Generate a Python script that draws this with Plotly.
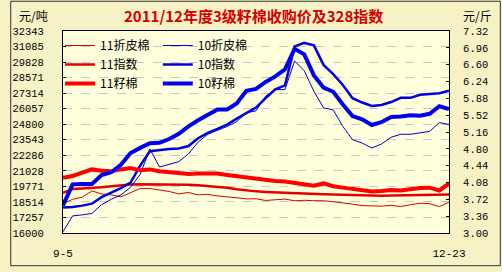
import plotly.graph_objects as go

# x positions (trading-day samples from 9-5 to 12-23)
x_idx = list(range(41))
x_tick_labels = ["9-5", "12-23"]

# 2011/12 season (red)
s11_lint = [18372, 18728, 18902, 19400, 19163, 19084, 18926, 19281, 19598, 19598,
            19479, 19360, 19163, 19281, 19084, 19123, 19005, 18926, 18847, 18767,
            18767, 18633, 18688, 18744, 18609, 18649, 18609, 18609, 18530, 18451,
            18333, 18214, 18174, 18174, 18238, 18135, 18293, 18412, 18372, 18135, 18491]
s11_index = [19242, 19558, 19598, 19637, 19693, 19780, 19874, 19914, 19954, 19954,
             19954, 19954, 19954, 19898, 19859, 19795, 19732, 19653, 19542, 19432,
             19368, 19321, 19281, 19242, 19218, 19194, 19163, 19139, 19107, 19084,
             19060, 19020, 18981, 19005, 19028, 19044, 19044, 19076, 19044, 19084, 19115]
s11_seed = [4.18, 4.22, 4.29, 4.36, 4.33, 4.32, 4.36, 4.39, 4.34, 4.36,
            4.32, 4.30, 4.27, 4.26, 4.27, 4.28, 4.27, 4.24, 4.21, 4.18,
            4.17, 4.14, 4.11, 4.10, 4.07, 4.04, 4.01, 4.06, 4.00, 3.97,
            3.94, 3.91, 3.89, 3.90, 3.92, 3.91, 3.94, 3.96, 3.97, 3.91, 4.06]

# 2010/11 season (blue)
s10_lint = [16100, 17384, 17463, 17581, 18293, 18728, 19084, 19693, 20744, 22800,
            21337, 21535, 21772, 22405, 23354, 23986, 24302, 24619, 25014, 25726,
            25884, 27070, 27600, 27600, 29916, 29125, 27465, 26121, 25963, 24619,
            23551, 23274, 22879, 23195, 23749, 23986, 23986, 24105, 24223, 24935, 24777]
s10_index = [18056, 18095, 18214, 18372, 18902, 19242, 19637, 20072, 21456, 22618,
             22721, 22800, 22839, 23037, 23670, 24105, 24421, 24777, 25251, 25726,
             26145, 26912, 27623, 27940, 31102, 31379, 31181, 29600, 28849, 27979,
             26912, 26556, 26279, 26358, 26595, 26935, 26935, 27188, 27228, 27307, 27521]
s10_seed = [3.59, 4.04, 4.05, 4.05, 4.24, 4.30, 4.46, 4.71, 4.82, 4.92,
            4.93, 5.01, 5.12, 5.28, 5.41, 5.53, 5.64, 5.64, 5.77, 6.04,
            6.08, 6.23, 6.35, 6.50, 6.94, 6.82, 6.37, 6.11, 6.02, 5.75,
            5.50, 5.43, 5.31, 5.37, 5.48, 5.49, 5.52, 5.51, 5.55, 5.71, 5.65]

left_ticks = [16000, 17257, 18514, 19771, 21028, 22286, 23543, 24800,
              26057, 27314, 28571, 29828, 31085, 32343]
right_ticks = [3.00, 3.36, 3.72, 4.08, 4.44, 4.80, 5.16, 5.52, 5.88,
               6.24, 6.60, 6.96, 7.32]
right_tick_text = ["3.00", "3.36", "3.72", "4.08", "4.44", "4.80", "5.16",
                   "5.52", "5.88", "6.24", "6.60", "6.96", "7.32"]

PAPER = "#F6F2C6"
PLOT = "#FFFFDC"
CJK = "SimSun, 'Noto Sans CJK SC', sans-serif"
MONO = "'Liberation Mono', 'DejaVu Sans Mono', monospace"

fig = go.Figure()

fig.add_trace(go.Scatter(x=x_idx, y=s11_lint, name="11折皮棉", mode="lines",
                         line=dict(color="#D80000", width=1), legend="legend"))
fig.add_trace(go.Scatter(x=x_idx, y=s11_index, name="11指数", mode="lines",
                         line=dict(color="#E80000", width=2.5), legend="legend"))
fig.add_trace(go.Scatter(x=x_idx, y=s11_seed, name="11籽棉", mode="lines", yaxis="y2",
                         line=dict(color="#FF0000", width=4), legend="legend"))
fig.add_trace(go.Scatter(x=x_idx, y=s10_lint, name="10折皮棉", mode="lines",
                         line=dict(color="#0000CC", width=1), legend="legend2"))
fig.add_trace(go.Scatter(x=x_idx, y=s10_index, name="10指数", mode="lines",
                         line=dict(color="#0000E0", width=2.5), legend="legend2"))
fig.add_trace(go.Scatter(x=x_idx, y=s10_seed, name="10籽棉", mode="lines", yaxis="y2",
                         line=dict(color="#0000F0", width=4), legend="legend2"))

L, R, T, B = 54, 53, 31, 34
W, H = 502, 272
pw, ph = W - L - R, H - T - B


def px_x(px):
    return (px - L) / pw


def px_y(py):
    return (H - B - py) / ph


fig.update_layout(
    width=W, height=H,
    margin=dict(l=L, r=R, t=T, b=B, pad=0),
    paper_bgcolor=PAPER,
    plot_bgcolor=PLOT,
    font=dict(family=CJK, size=12, color="black"),
    xaxis=dict(range=[x_idx[0], x_idx[-1]], tickmode="array",
               tickvals=[x_idx[0], x_idx[-1]], ticktext=x_tick_labels,
               showgrid=False, zeroline=False, showline=True, linecolor="black",
               linewidth=1, mirror=True, ticks="", ticklabelstandoff=10,
               tickfont=dict(family=MONO, size=11, color="black")),
    yaxis=dict(range=[left_ticks[0], left_ticks[-1]], tickmode="array",
               tickvals=left_ticks, ticktext=[str(v) for v in left_ticks],
               showgrid=True, gridcolor="#C8C8C8", griddash="dash", gridwidth=1,
               zeroline=False, showline=True, linecolor="black", linewidth=1,
               mirror=True, ticks="inside", ticklen=3, tickcolor="black",
               ticklabelstandoff=16,
               tickfont=dict(family=MONO, size=10.5, color="black")),
    yaxis2=dict(range=[right_ticks[0], right_ticks[-1]], overlaying="y", side="right",
                tickmode="array", tickvals=right_ticks, ticktext=right_tick_text,
                showgrid=False, zeroline=False, showline=True, linecolor="black",
                linewidth=1, ticks="inside", ticklen=3, tickcolor="black",
                ticklabelstandoff=11,
                tickfont=dict(family=MONO, size=10.5, color="black")),
    legend=dict(x=px_x(51), y=px_y(31), xanchor="left", yanchor="top",
                bgcolor="rgba(0,0,0,0)", borderwidth=0, itemwidth=30,
                font=dict(family=CJK, size=12, color="black"),
                tracegroupgap=0),
    legend2=dict(x=px_x(151), y=px_y(31), xanchor="left", yanchor="top",
                 bgcolor="rgba(0,0,0,0)", borderwidth=0, itemwidth=30,
                 font=dict(family=CJK, size=12, color="black"),
                 tracegroupgap=0),
    showlegend=True,
    annotations=[
        dict(text="2011/12年度3级籽棉收购价及328指数", x=px_x(249), y=px_y(15),
             xref="paper", yref="paper", xanchor="center", yanchor="middle",
             showarrow=False,
             font=dict(family=CJK, size=15, color="#D40000", weight="bold")),
        dict(text="元/吨", x=px_x(7), y=px_y(15), xref="paper", yref="paper",
             xanchor="left", yanchor="middle", showarrow=False,
             font=dict(family=CJK, size=12, color="black")),
        dict(text="元/斤", x=px_x(461), y=px_y(15), xref="paper", yref="paper",
             xanchor="left", yanchor="middle", showarrow=False,
             font=dict(family=CJK, size=12, color="black")),
    ],
    shapes=[
        # legend backdrop: hides gridlines only (drawn between grid and traces)
        dict(type="rect", xref="paper", yref="paper",
             x0=px_x(55), x1=px_x(257), y0=px_y(87), y1=px_y(32),
             line=dict(width=0), fillcolor=PLOT, layer="between"),
        dict(type="rect", xref="paper", yref="paper",
             x0=px_x(0.5), x1=px_x(W - 0.5), y0=px_y(H - 0.5), y1=px_y(0.5),
             line=dict(color="#303030", width=1), fillcolor="rgba(0,0,0,0)",
             layer="above"),
    ],
)

fig.write_html("out.html")
